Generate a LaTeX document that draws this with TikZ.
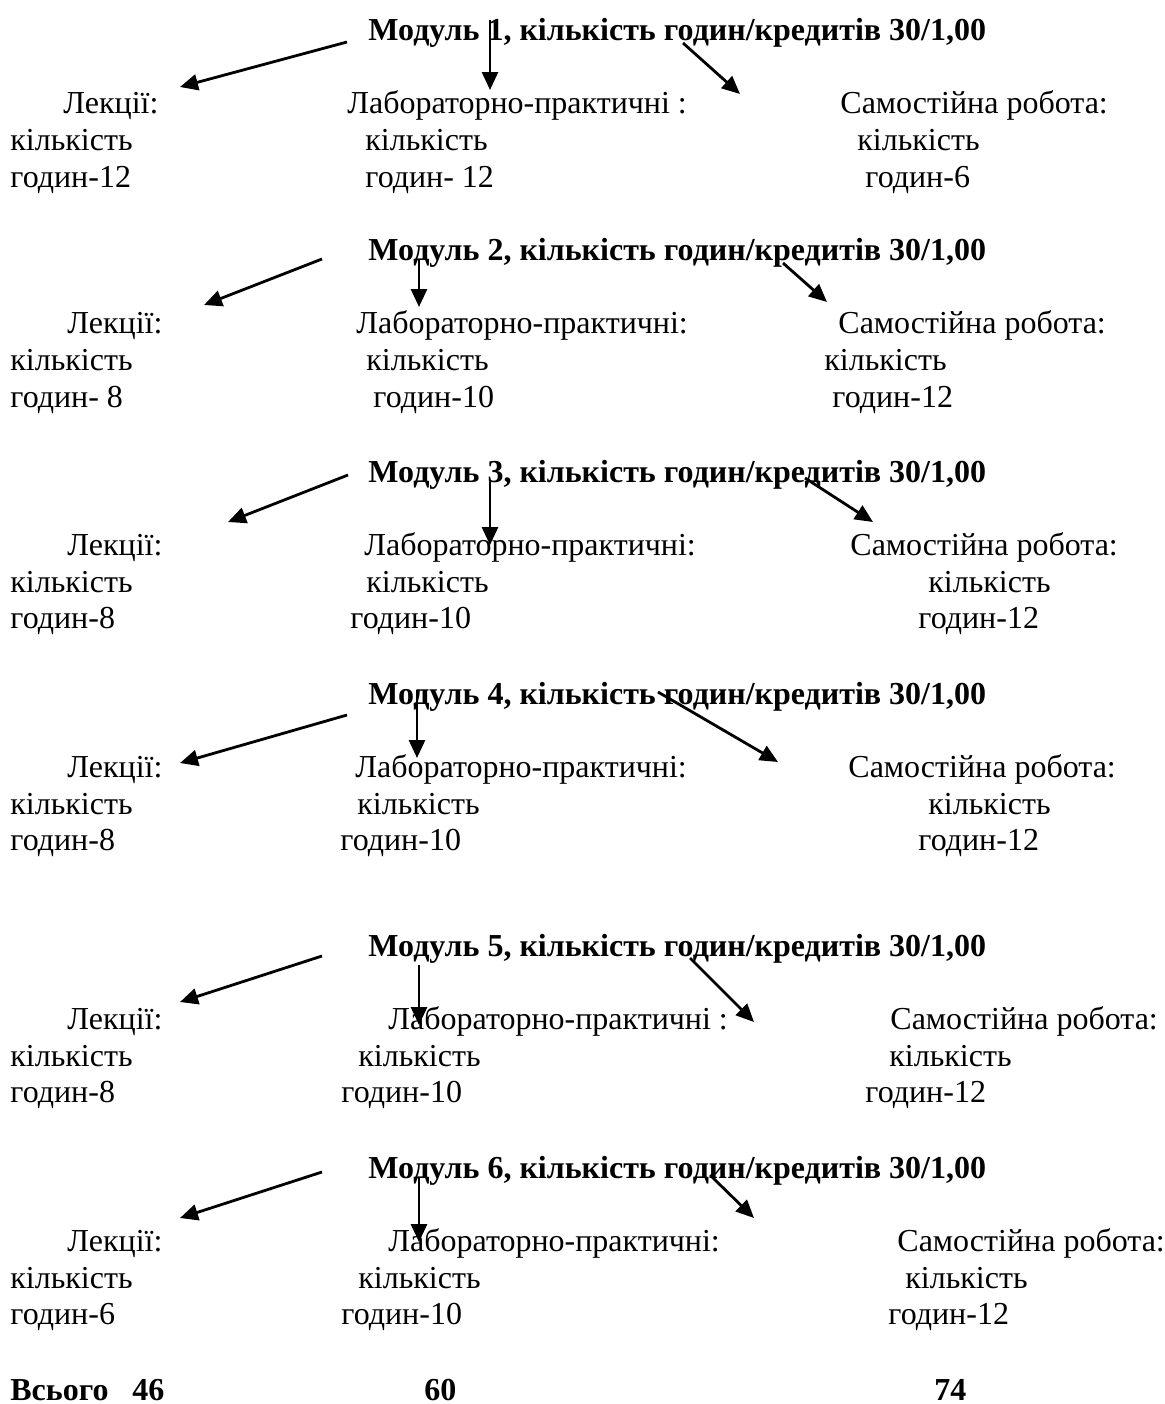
\documentclass[tikz,border=0pt]{standalone}
\usepackage{fontspec}
\setmainfont{Liberation Serif}
\usetikzlibrary{arrows.meta}
\begin{document}
\begin{tikzpicture}[x=0.5pt,y=-0.5pt,
  txt/.style={anchor=base west,inner sep=0pt,font=\fontsize{16}{18}\selectfont},
  ttl/.style={txt,font=\fontsize{16}{18}\selectfont\bfseries},
  arr/.style={line width=1.4pt,-{Triangle[length=9pt,width=8pt]}}]
\useasboundingbox[fill=white] (0,0) rectangle (1164,1404);
% ---------- Module 1
\node[ttl] (t1) at (368,40) {Модуль 1, кількість годин/кредитів 30/1,00};
\node[txt] (l1a) at (63,113) {Лекції:};
\node[txt] (l1b) at (10,150) {кількість};
\node[txt] (l1c) at (10,187) {годин-12};
\node[txt] (p1a) at (347,113) {Лабораторно-практичні :};
\node[txt] (p1b) at (365,150) {кількість};
\node[txt] (p1c) at (365,187) {годин- 12};
\node[txt] (s1a) at (840,113) {Самостійна робота:};
\node[txt] (s1b) at (857,150) {кількість};
\node[txt] (s1c) at (865,187) {годин-6};
\coordinate (a1l0) at (347,42); \coordinate (a1l1) at (180,87);
\coordinate (a1d0) at (490,20); \coordinate (a1d1) at (490,90);
\coordinate (a1r0) at (683,43); \coordinate (a1r1) at (740,94);
\draw[arr] (a1l0) -- (a1l1);
\draw[arr] (a1d0) -- (a1d1);
\draw[arr] (a1r0) -- (a1r1);
% ---------- Module 2
\node[ttl] (t2) at (368,260) {Модуль 2, кількість годин/кредитів 30/1,00};
\node[txt] (l2a) at (67,333) {Лекції:};
\node[txt] (l2b) at (10,370) {кількість};
\node[txt] (l2c) at (10,407) {годин- 8};
\node[txt] (p2a) at (356,333) {Лабораторно-практичні:};
\node[txt] (p2b) at (366,370) {кількість};
\node[txt] (p2c) at (373,407) {годин-10};
\node[txt] (s2a) at (838,333) {Самостійна робота:};
\node[txt] (s2b) at (824,370) {кількість};
\node[txt] (s2c) at (832,407) {годин-12};
\coordinate (a2l0) at (322,259); \coordinate (a2l1) at (204,305);
\coordinate (a2d0) at (419,260); \coordinate (a2d1) at (419,307);
\coordinate (a2r0) at (783,263); \coordinate (a2r1) at (827,302);
\draw[arr] (a2l0) -- (a2l1);
\draw[arr] (a2d0) -- (a2d1);
\draw[arr] (a2r0) -- (a2r1);
% ---------- Module 3
\node[ttl] (t3) at (368,482) {Модуль 3, кількість годин/кредитів 30/1,00};
\node[txt] (l3a) at (67,555) {Лекції:};
\node[txt] (l3b) at (10,592) {кількість};
\node[txt] (l3c) at (10,628) {годин-8};
\node[txt] (p3a) at (364,555) {Лабораторно-практичні:};
\node[txt] (p3b) at (366,592) {кількість};
\node[txt] (p3c) at (350,628) {годин-10};
\node[txt] (s3a) at (850,555) {Самостійна робота:};
\node[txt] (s3b) at (928,592) {кількість};
\node[txt] (s3c) at (918,628) {годин-12};
\coordinate (a3l0) at (348,475); \coordinate (a3l1) at (228,522);
\coordinate (a3d0) at (490,482); \coordinate (a3d1) at (490,545);
\coordinate (a3r0) at (805,478); \coordinate (a3r1) at (873,522);
\draw[arr] (a3l0) -- (a3l1);
\draw[arr] (a3d0) -- (a3d1);
\draw[arr] (a3r0) -- (a3r1);
% ---------- Module 4
\node[ttl] (t4) at (368,704) {Модуль 4, кількість годин/кредитів 30/1,00};
\node[txt] (l4a) at (67,777) {Лекції:};
\node[txt] (l4b) at (10,814) {кількість};
\node[txt] (l4c) at (10,850) {годин-8};
\node[txt] (p4a) at (355,777) {Лабораторно-практичні:};
\node[txt] (p4b) at (357,814) {кількість};
\node[txt] (p4c) at (340,850) {годин-10};
\node[txt] (s4a) at (848,777) {Самостійна робота:};
\node[txt] (s4b) at (928,814) {кількість};
\node[txt] (s4c) at (918,850) {годин-12};
\coordinate (a4l0) at (347,715); \coordinate (a4l1) at (180,763);
\coordinate (a4d0) at (417,690); \coordinate (a4d1) at (417,758);
\coordinate (a4r0) at (658,692); \coordinate (a4r1) at (778,762);
\draw[arr] (a4l0) -- (a4l1);
\draw[arr] (a4d0) -- (a4d1);
\draw[arr] (a4r0) -- (a4r1);
% ---------- Module 5
\node[ttl] (t5) at (368,956) {Модуль 5, кількість годин/кредитів 30/1,00};
\node[txt] (l5a) at (67,1029) {Лекції:};
\node[txt] (l5b) at (10,1066) {кількість};
\node[txt] (l5c) at (10,1102) {годин-8};
\node[txt] (p5a) at (388,1029) {Лабораторно-практичні :};
\node[txt] (p5b) at (358,1066) {кількість};
\node[txt] (p5c) at (341,1102) {годин-10};
\node[txt] (s5a) at (890,1029) {Самостійна робота:};
\node[txt] (s5b) at (889,1066) {кількість};
\node[txt] (s5c) at (865,1102) {годин-12};
\coordinate (a5l0) at (322,956); \coordinate (a5l1) at (180,1002);
\coordinate (a5d0) at (419,965); \coordinate (a5d1) at (419,1025);
\coordinate (a5r0) at (690,958); \coordinate (a5r1) at (754,1022);
\draw[arr] (a5l0) -- (a5l1);
\draw[arr] (a5d0) -- (a5d1);
\draw[arr] (a5r0) -- (a5r1);
% ---------- Module 6
\node[ttl] (t6) at (368,1178) {Модуль 6, кількість годин/кредитів 30/1,00};
\node[txt] (l6a) at (67,1251) {Лекції:};
\node[txt] (l6b) at (10,1288) {кількість};
\node[txt] (l6c) at (10,1324) {годин-6};
\node[txt] (p6a) at (388,1251) {Лабораторно-практичні:};
\node[txt] (p6b) at (358,1288) {кількість};
\node[txt] (p6c) at (341,1324) {годин-10};
\node[txt] (s6a) at (897,1251) {Самостійна робота:};
\node[txt] (s6b) at (905,1288) {кількість};
\node[txt] (s6c) at (888,1324) {годин-12};
\coordinate (a6l0) at (322,1172); \coordinate (a6l1) at (180,1218);
\coordinate (a6d0) at (419,1177); \coordinate (a6d1) at (419,1242);
\coordinate (a6r0) at (710,1175); \coordinate (a6r1) at (754,1218);
\draw[arr] (a6l0) -- (a6l1);
\draw[arr] (a6d0) -- (a6d1);
\draw[arr] (a6r0) -- (a6r1);
% ---------- Totals
\node[ttl] (tot) at (10,1400) {Всього};
\node[ttl] (tl) at (132,1400) {46};
\node[ttl] (tp) at (424,1400) {60};
\node[ttl] (ts) at (934,1400) {74};
\end{tikzpicture}
\end{document}
